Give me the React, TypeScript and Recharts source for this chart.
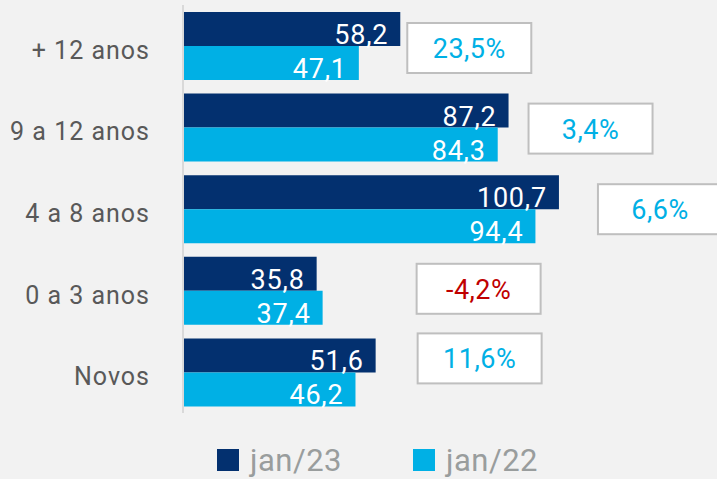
import { BarChart, Bar, XAxis, YAxis, LabelList } from "recharts";

const categories = ["+ 12 anos", "9 a 12 anos", "4 a 8 anos", "0 a 3 anos", "Novos"];
const jan23 = [58.2, 87.2, 100.7, 35.8, 51.6];
const jan22 = [47.1, 84.3, 94.4, 37.4, 46.2];
const variation = ["23,5%", "3,4%", "6,6%", "-4,2%", "11,6%"];
const seriesNames = ["jan/23", "jan/22"];

const DARK = "#03306F";
const LIGHT = "#00B0E5";
const FONT = "Roboto, 'Noto Sans', sans-serif";

// where each variation box sits: gap after the longer bar, and shift from the category centre
const boxShift = [
  [7, 2],
  [20, 1],
  [39, 0],
  [94, -2],
  [42, -14],
];

const data = categories.map((cat, i) => ({ cat, jan23: jan23[i], jan22: jan22[i] }));

const fmt = (v: number) => v.toFixed(1).replace(".", ",");

function CatTick(props: any) {
  const { x, y, payload } = props;
  return (
    <text x={x} y={y + 13} textAnchor="end" fill="#595959" fontSize={25} fontFamily={FONT} letterSpacing={1}>
      {payload.value}
    </text>
  );
}

function ValueLabel(props: any) {
  const { x, y, width, height, value } = props;
  return (
    <text x={x + width - 12} y={y + height - 2} textAnchor="end" fill="#fff" fontSize={27} fontFamily={FONT} letterSpacing={0.8}>
      {fmt(Number(value))}
    </text>
  );
}

function BoxLabel(props: any) {
  const { x, y, width, value } = props;
  const i = categories.indexOf(value);
  if (i < 0) return null;
  // end of the longer of the two bars, from this (jan/22) bar's scale
  const maxEnd = x + (width * Math.max(jan23[i], jan22[i])) / jan22[i];
  const bx = maxEnd + boxShift[i][0];
  const cy = y + boxShift[i][1];
  const neg = variation[i].startsWith("-");
  return (
    <g>
      <rect x={bx} y={cy - 25} width={124} height={50} fill="#fff" stroke="#BFBFBF" strokeWidth={2} />
      <text x={bx + 62} y={cy + 10} textAnchor="middle" fill={neg ? "#C00000" : LIGHT} fontSize={27} fontFamily={FONT} letterSpacing={0.5}>
        {variation[i]}
      </text>
    </g>
  );
}

export default function App() {
  return (
    <div style={{ position: "fixed", left: 0, top: 0, width: 717, height: 479, background: "#F2F2F2", overflow: "hidden" }}>
      <BarChart
        width={717}
        height={479}
        data={data}
        layout="vertical"
        margin={{ top: 5, right: 86, bottom: 66, left: 0 }}
        barGap={0}
        barSize={34}
      >
        <XAxis type="number" domain={[0, 120]} hide />
        <YAxis
          type="category"
          dataKey="cat"
          width={183}
          tickLine={false}
          axisLine={{ stroke: "#D9D9D9", strokeWidth: 2 }}
          tickMargin={27}
          tick={<CatTick />}
          interval={0}
        />
        <Bar dataKey="jan23" name={seriesNames[0]} fill={DARK} isAnimationActive={false}>
          <LabelList dataKey="jan23" content={<ValueLabel />} />
        </Bar>
        <Bar dataKey="jan22" name={seriesNames[1]} fill={LIGHT} isAnimationActive={false}>
          <LabelList dataKey="jan22" content={<ValueLabel />} />
          <LabelList dataKey="cat" content={<BoxLabel />} />
        </Bar>
      </BarChart>
      {/* legend */}
      <div style={{ position: "absolute", top: 440, left: 0, width: 717, height: 40, fontFamily: FONT }}>
        {seriesNames.map((name, i) => (
          <div key={name} style={{ position: "absolute", left: i === 0 ? 217 : 413, top: 0, display: "flex", alignItems: "center", height: 40 }}>
            <span style={{ display: "inline-block", width: 22, height: 22, background: i === 0 ? DARK : LIGHT }} />
            <span style={{ marginLeft: 11, fontSize: 31, color: "#999D9D", lineHeight: "31px", letterSpacing: 0.5 }}>{name}</span>
          </div>
        ))}
      </div>
    </div>
  );
}
